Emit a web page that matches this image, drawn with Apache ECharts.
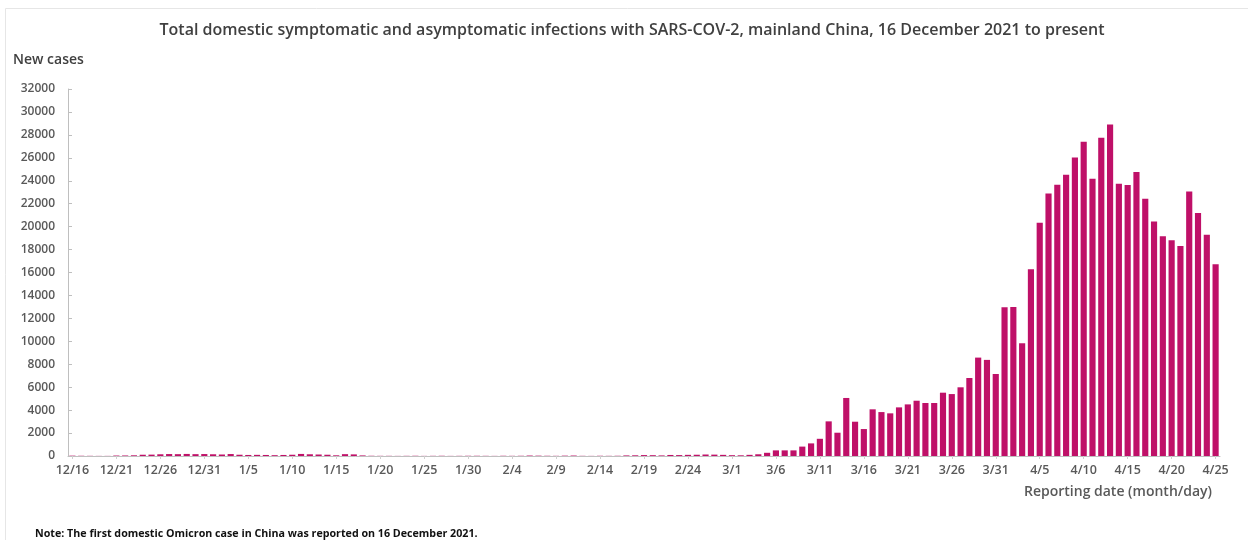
<!DOCTYPE html>
<html>
<head>
<meta charset="utf-8">
<script src="https://cdn.jsdelivr.net/npm/echarts@6/dist/echarts.min.js"></script>
<style>
html,body{margin:0;padding:0;background:#fff;}
#c{width:1248px;height:540px;}
</style>
</head>
<body>
<div id="c"></div>
<script>
const titleText = 'Total domestic symptomatic and asymptomatic infections with SARS-COV-2, mainland China, 16 December 2021 to present';
const yAxisTitle = 'New cases';
const xAxisTitle = 'Reporting date (month/day)';
const noteText = 'Note: The first domestic Omicron case in China was reported on 16 December 2021.';

// categories: 16 Dec 2021 .. 25 Apr 2022
const months = [[12, 16, 31], [1, 1, 31], [2, 1, 28], [3, 1, 31], [4, 1, 25]];
const dates = [];
months.forEach(([m, s, e]) => { for (let d = s; d <= e; d++) dates.push(m + '/' + d); });

const decValues = [30, 20, 15, 10, 10, 40, 45, 60, 110, 120, 150, 170, 160, 180, 160, 170];
const janValues = [150, 130, 170, 110, 90, 100, 90, 70, 90, 110, 180, 150, 130, 110, 60, 160,
  140, 50, 20, 15, 15, 10, 15, 20, 10, 15, 20, 10, 15, 20, 20];
const febValues = [15, 10, 20, 15, 20, 40, 30, 20, 15, 30, 40, 15, 10, 20, 15, 20,
  50, 60, 80, 70, 50, 90, 80, 100, 110, 130, 120, 100];
const marValues = [70, 60, 100, 150, 280, 490, 490, 490, 820, 1100, 1500, 3020, 2030, 5060, 2990, 2350,
  4070, 3830, 3720, 4240, 4500, 4820, 4620, 4620, 5520, 5400, 5990, 6800, 8580, 8380, 7150];
const aprValues = [12970, 13000, 9830, 16290, 20330, 22890, 23650, 24520, 26030, 27400, 24170, 27750, 28910, 23740, 23620, 24760,
  22430, 20450, 19170, 18820, 18300, 23070, 21180, 19290, 16730];
const values = decValues.concat(janValues, febValues, marValues, aprValues);

const yTicks = { min: 0, max: 32000, interval: 2000 };

const chart = echarts.init(document.getElementById('c'), null, { renderer: 'canvas' });
const labelFont = '"Open Sans", "Liberation Sans", sans-serif';
chart.setOption({
  animation: false,
  backgroundColor: '#ffffff',
  title: {
    text: titleText,
    left: 627,
    textAlign: 'center',
    top: 17,
    textStyle: { fontFamily: labelFont, fontSize: 16, fontWeight: 600, color: '#404040' }
  },
  graphic: [
    { type: 'text', left: 13, top: 53, style: { text: yAxisTitle, font: '600 14px "Open Sans", sans-serif', fill: '#404040' } },
    { type: 'text', left: 35, top: 528, style: { text: noteText, font: 'bold 10.7px "Open Sans", sans-serif', fill: '#111111' } },
    { type: 'rect', left: 3, top: 6, shape: { width: 1250, height: 540 }, style: { fill: 'none', stroke: '#e6e6e6', lineWidth: 1 }, silent: true }
  ],
  grid: { left: 68, right: 28, top: 89, bottom: 84, containLabel: false },
  xAxis: {
    type: 'category',
    data: dates,
    name: xAxisTitle,
    nameLocation: 'end',
    nameGap: 0,
    nameTextStyle: {
      fontFamily: labelFont, fontSize: 14, fontWeight: 600, color: '#595959',
      align: 'right', verticalAlign: 'top', padding: [29, 8, 0, 0]
    },
    axisLine: { lineStyle: { color: '#bfbfbf', width: 1 } },
    axisTick: { show: true, alignWithLabel: true, interval: 4, length: 3, lineStyle: { color: '#d0d0d0' } },
    axisLabel: { interval: 4, margin: 8, fontFamily: labelFont, fontSize: 12.5, fontWeight: 600, color: '#595959' }
  },
  yAxis: {
    type: 'value',
    min: yTicks.min,
    max: yTicks.max,
    interval: yTicks.interval,
    splitLine: { show: false },
    axisLine: { show: true, lineStyle: { color: '#bfbfbf', width: 1 } },
    axisTick: { show: true, inside: true, length: 4, lineStyle: { color: '#bfbfbf' } },
    axisLabel: { margin: 13, fontFamily: labelFont, fontSize: 12, fontWeight: 600, color: '#595959',
      formatter: v => String(v) }
  },
  series: [{
    type: 'bar',
    data: values,
    barCategoryGap: '30%',
    itemStyle: { color: '#BF1068' }
  }]
});
</script>
</body>
</html>
